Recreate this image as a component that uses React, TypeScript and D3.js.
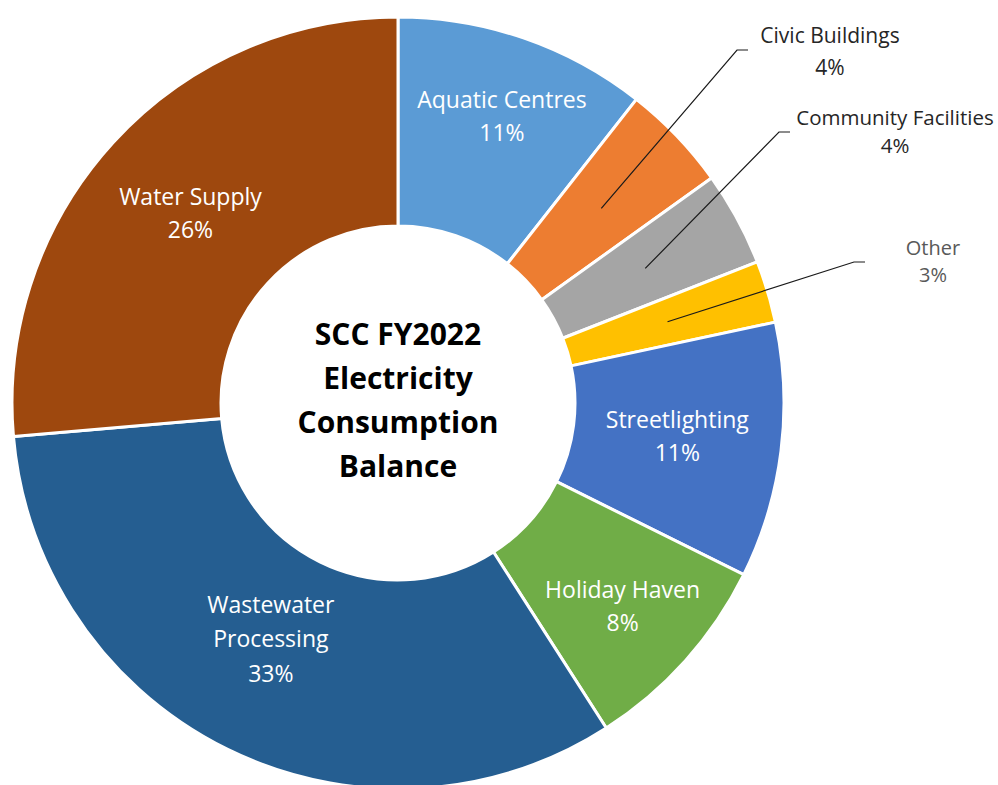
import { useEffect, useRef } from "react";
import * as d3 from "d3";

const categories = [
  "Aquatic Centres",
  "Civic Buildings",
  "Community Facilities",
  "Other",
  "Streetlighting",
  "Holiday Haven",
  "Wastewater Processing",
  "Water Supply",
];

// shares
const shares = [10.6, 4.5, 3.95, 2.6, 10.7, 8.6, 32.7, 26.4];

const percentLabels = ["11%", "4%", "4%", "3%", "11%", "8%", "33%", "26%"];

const labelLines = [
  ["Aquatic Centres"],
  ["Civic Buildings"],
  ["Community Facilities"],
  ["Other"],
  ["Streetlighting"],
  ["Holiday Haven"],
  ["Wastewater", "Processing"],
  ["Water Supply"],
];

const colors = [
  "#5B9BD5",
  "#ED7D31",
  "#A5A5A5",
  "#FFC000",
  "#4472C4",
  "#70AD47",
  "#255E91",
  "#9E480E",
];

const centerTitle = ["SCC FY2022", "Electricity", "Consumption", "Balance"];

// label placement (layout only)
const insideNudge: Record<string, [number, number]> = {
  "Aquatic Centres": [12, -19.5],
  Streetlighting: [0, -0.5],
  "Holiday Haven": [15, 16.5],
  "Wastewater Processing": [-3, -15.5],
  "Water Supply": [0, 1.5],
};

// [text centre x, first baseline y, leader end x, text colour, font size, line gap]
const outsideLabels: Record<string, [number, number, number, string, number, number]> = {
  "Civic Buildings": [830, 43, 748, "#262626", 21, 32],
  "Community Facilities": [895, 125, 790, "#262626", 20.5, 28],
  Other: [933, 255, 865, "#595959", 20, 27],
};

const FONT = "'Open Sans', sans-serif";

export default function App() {
  const svgRef = useRef<SVGSVGElement | null>(null);

  useEffect(() => {
    const width = 998;
    const height = 785;
    const cx = 398;
    const cy = 403;
    const outerRadius = 386;
    const innerRadius = 177;

    const svg = d3.select(svgRef.current);
    svg.selectAll("*").remove();
    svg.attr("width", width).attr("height", height);

    svg
      .append("rect")
      .attr("width", width)
      .attr("height", height)
      .attr("fill", "#ffffff");

    const data = categories.map((name, i) => ({
      name,
      value: shares[i],
      pct: percentLabels[i],
      lines: labelLines[i],
      color: colors[i],
    }));

    type Datum = (typeof data)[number];

    const pie = d3
      .pie<Datum>()
      .sort(null)
      .value((d) => d.value);

    const arc = d3
      .arc<d3.PieArcDatum<Datum>>()
      .innerRadius(innerRadius)
      .outerRadius(outerRadius);

    const arcs = pie(data);

    const chart = svg
      .append("g")
      .attr("transform", `translate(${cx}, ${cy})`);

    chart
      .selectAll("path.slice")
      .data(arcs)
      .join("path")
      .attr("class", "slice")
      .attr("d", arc)
      .attr("fill", (d) => d.data.color)
      .attr("stroke", "#ffffff")
      .attr("stroke-width", 3)
      .attr("stroke-linejoin", "round");

    // labels inside the ring
    const insideArcs = arcs.filter((d) => !outsideLabels[d.data.name]);

    insideArcs.forEach((d) => {
      const [x0, y0] = arc.centroid(d);
      const nudge = insideNudge[d.data.name] || [0, 0];
      const x = x0 + nudge[0];
      const y = y0 + nudge[1];
      const lines = [...d.data.lines, d.data.pct];
      const gap = lines.length > 2 ? 34.5 : 33;
      const firstBaseline = y - ((lines.length - 1) * gap) / 2 + 7;
      const text = chart
        .append("text")
        .attr("text-anchor", "middle")
        .attr("fill", "#ffffff")
        .attr("font-family", FONT)
        .attr("font-size", 23);
      lines.forEach((line, i) => {
        text
          .append("tspan")
          .attr("x", x)
          .attr("y", firstBaseline + i * gap)
          .text(line);
      });
    });

    // labels outside with leader lines
    const outsideArcs = arcs.filter((d) => outsideLabels[d.data.name]);

    outsideArcs.forEach((d) => {
      const [tx, ty, endX, color, size, gap] = outsideLabels[d.data.name];
      const [sx, sy] = arc.centroid(d);
      const endY = ty + 7 - cy;
      const lineEnd = endX - cx;
      const points: [number, number][] = [
        [sx, sy],
        [lineEnd - 11, endY],
        [lineEnd, endY],
      ];
      chart
        .append("path")
        .attr("d", d3.line()(points))
        .attr("fill", "none")
        .attr("stroke", "#1a1a1a")
        .attr("stroke-width", 1.2);

      const text = svg
        .append("text")
        .attr("text-anchor", "middle")
        .attr("fill", color)
        .attr("font-family", FONT)
        .attr("font-size", size);
      [...d.data.lines, d.data.pct].forEach((line, i) => {
        text
          .append("tspan")
          .attr("x", tx)
          .attr("y", ty + i * gap)
          .text(line);
      });
    });

    // centre title
    const title = svg
      .append("text")
      .attr("text-anchor", "middle")
      .attr("fill", "#000000")
      .attr("font-family", FONT)
      .attr("font-weight", "bold")
      .attr("font-size", 30);
    centerTitle.forEach((line, i) => {
      title
        .append("tspan")
        .attr("x", cx)
        .attr("y", 345 + i * 44)
        .text(line);
    });
  }, []);

  return (
    <svg
      ref={svgRef}
      style={{ position: "absolute", left: 0, top: 0, display: "block" }}
    />
  );
}
